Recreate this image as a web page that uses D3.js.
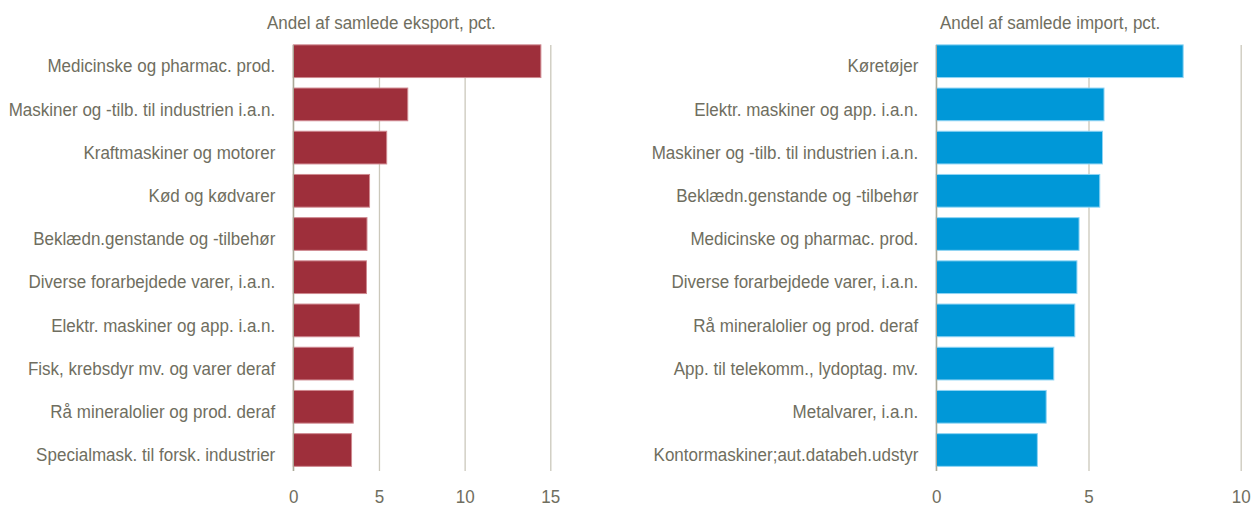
<!DOCTYPE html>
<html>
<head>
<meta charset="utf-8">
<script src="https://cdn.jsdelivr.net/npm/d3@7"></script>
<style>
  body { margin: 0; background: #fff; }
  text { font-family: "Liberation Sans", Arial, sans-serif; fill: #6f6e60; }
</style>
</head>
<body>
<div class="canvas"></div>
<script>
// eksport (left panel)
const exportCategories = [
  'Medicinske og pharmac. prod.',
  'Maskiner og -tilb. til industrien i.a.n.',
  'Kraftmaskiner og motorer',
  'Kød og kødvarer',
  'Beklædn.genstande og -tilbehør',
  'Diverse forarbejdede varer, i.a.n.',
  'Elektr. maskiner og app. i.a.n.',
  'Fisk, krebsdyr mv. og varer deraf',
  'Rå mineralolier og prod. deraf',
  'Specialmask. til forsk. industrier'
];
const exportValues = [14.45, 6.68, 5.45, 4.45, 4.3, 4.27, 3.86, 3.5, 3.5, 3.4];
const exportTicks = [0, 5, 10, 15];

// import (right panel)
const importCategories = [
  'Køretøjer',
  'Elektr. maskiner og app. i.a.n.',
  'Maskiner og -tilb. til industrien i.a.n.',
  'Beklædn.genstande og -tilbehør',
  'Medicinske og pharmac. prod.',
  'Diverse forarbejdede varer, i.a.n.',
  'Rå mineralolier og prod. deraf',
  'App. til telekomm., lydoptag. mv.',
  'Metalvarer, i.a.n.',
  'Kontormaskiner;aut.databeh.udstyr'
];
const importValues = [8.11, 5.51, 5.46, 5.37, 4.69, 4.62, 4.55, 3.86, 3.61, 3.32];
const importTicks = [0, 5, 10];

const dims = { width: 1252, height: 508 };
const squish = 0.92;   // text in the original is a bit narrow

const svg = d3.select('.canvas')
    .append('svg')
    .attr('width', dims.width)
    .attr('height', dims.height);

const drawPanel = (opts) => {
    const x = d3.scaleLinear()
        .domain(opts.domain)
        .range([opts.x0, opts.x1]);

    const y = d3.scaleBand()
        .domain(opts.categories)
        .range([39.6, 471.6])
        .paddingInner(0.243)
        .paddingOuter(0.1215);

    const g = svg.append('g');

    // title
    g.append('text')
        .attr('transform', `translate(${opts.titleX}, 29) scale(${squish},1)`)
        .attr('font-size', 18.5)
        .text(opts.title);

    // gridlines + tick labels
    const xAxis = d3.axisBottom(x)
        .tickValues(opts.ticks)
        .tickSize(-(471 - 45))
        .tickPadding(0)
        .tickFormat(d3.format('d'));

    const xg = g.append('g')
        .attr('transform', 'translate(0, 471)')
        .call(xAxis);
    xg.select('.domain').remove();
    xg.selectAll('line').attr('stroke', '#cbc8bb').attr('stroke-width', 1.3);
    xg.selectAll('text')
        .attr('y', 0)
        .attr('dy', 0)
        .attr('transform', `translate(0, 32) scale(${squish},1)`)
        .attr('font-size', 18.5)
        .attr('fill', '#6f6e60');

    // bars
    g.selectAll('rect.bar')
        .data(opts.values)
        .enter()
        .append('rect')
        .attr('class', 'bar')
        .attr('x', x(0))
        .attr('y', (d, i) => y(opts.categories[i]))
        .attr('width', d => x(d) - x(0))
        .attr('height', y.bandwidth())
        .attr('fill', opts.color)
        .attr('stroke', opts.stroke)
        .attr('stroke-width', 1);

    // zero line
    g.append('line')
        .attr('x1', x(0)).attr('x2', x(0))
        .attr('y1', 45).attr('y2', 471)
        .attr('stroke', '#a9a797')
        .attr('stroke-width', 1.3);

    // category labels (sit a little below the bar centre in the original)
    const yAxis = d3.axisLeft(y).tickSize(0).tickPadding(0);
    const yg = g.append('g')
        .attr('transform', `translate(${x(0) - 18}, 4.5)`)
        .call(yAxis);
    yg.select('.domain').remove();
    yg.selectAll('text')
        .attr('x', 0)
        .attr('dy', '0.36em')
        .attr('transform', `scale(${squish},1)`)
        .attr('font-size', 18.5)
        .attr('fill', '#6f6e60');
};

drawPanel({
    categories: exportCategories,
    values: exportValues,
    ticks: exportTicks,
    domain: [0, 15],
    x0: 293.3, x1: 550.3,
    title: 'Andel af samlede eksport, pct.',
    titleX: 267,
    color: '#9e2f3b',
    stroke: '#cf8990'
});

drawPanel({
    categories: importCategories,
    values: importValues,
    ticks: importTicks,
    domain: [0, 10],
    x0: 936.3, x1: 1240.7,
    title: 'Andel af samlede import, pct.',
    titleX: 940,
    color: '#0098d8',
    stroke: '#8fd4f4'
});
</script>
</body>
</html>
